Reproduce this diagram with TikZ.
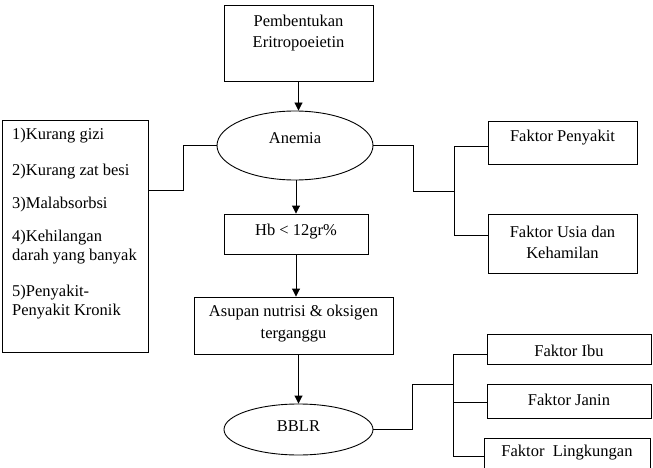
\documentclass[tikz,border=0pt]{standalone}
\usepackage{fontspec}
\setmainfont{Liberation Serif}
\usetikzlibrary{arrows.meta,shapes.geometric}
\begin{document}
\begin{tikzpicture}[x=1pt,y=-1pt,
  every node/.style={font=\fontsize{16.5}{19}\selectfont, inner sep=0pt},
  box/.style={draw, line width=0.9pt, rectangle, align=center},
  oval/.style={draw, line width=0.9pt, ellipse},
  ln/.style={line width=0.9pt},
  arr/.style={line width=0.9pt, -{Triangle[length=8pt,width=8pt]}},
  txt/.style={anchor=west}]
\clip (0,0) rectangle (653,468);
\useasboundingbox (0,0) rectangle (653,468);
% boxes
\node[box, minimum width=149pt, minimum height=76pt] (peb) at (298.5,43) {};
\node[align=center] (pebt) at (298.5,33) {Pembentukan\\[2pt]Eritropoeietin};
\node[oval, minimum width=156pt, minimum height=69pt] (anemia) at (295,145.5) {};
\node (anemiat) at (295,138) {Anemia};
\node[box, minimum width=144pt, minimum height=40pt] (hb) at (296,234) {};
\node (hbt) at (296,232) {Hb < 12gr\%};
\node[box, minimum width=199pt, minimum height=57pt] (asupan) at (293.5,325.5) {};
\node[align=center] (asupant) at (293.5,324) {Asupan nutrisi \& oksigen\\[3pt]terganggu};
\node[oval, minimum width=149pt, minimum height=51pt] (bblr) at (298.5,429.5) {};
\node (bblrt) at (298.5,426) {BBLR};
\node[box, minimum width=146pt, minimum height=232pt] (left) at (75,236) {};
\node[txt] (l1) at (12,136) {1)Kurang gizi};
\node[txt] (l2) at (12,172) {2)Kurang zat besi};
\node[txt] (l3) at (12,205) {3)Malabsorbsi};
\node[txt] (l4a) at (12,238) {4)Kehilangan};
\node[txt] (l4b) at (12,257) {darah yang banyak};
\node[txt] (l5a) at (12,293) {5)Penyakit-};
\node[txt] (l5b) at (12,312) {Penyakit Kronik};
\node[box, minimum width=149pt, minimum height=43pt] (peny) at (562.5,142.5) {};
\node (penyt) at (562.5,138) {Faktor Penyakit};
\node[box, minimum width=149pt, minimum height=59pt] (usia) at (562.5,243.5) {};
\node[align=center] (usiat) at (562.5,242.5) {Faktor Usia dan\\[2pt]Kehamilan};
\node[box, minimum width=164pt, minimum height=30pt] (ibu) at (569,349) {};
\node (ibut) at (569,351) {Faktor Ibu};
\node[box, minimum width=164pt, minimum height=34pt] (janin) at (569,401) {};
\node (janint) at (569,400) {Faktor Janin};
\node[box, minimum width=166pt, minimum height=44pt] (lingk) at (567,460) {};
\node (lingkt) at (567,453) {Faktor\ \ Lingkungan};
% arrows
\draw[arr] (peb.south) -- (peb.south |- anemia.north);
\draw[arr] (anemia.south -| hb) -- (hb.north);
\draw[arr] (hb.south) -- (hb.south |- asupan.north);
\draw[arr] (asupan.south -| bblr) -- (bblr.north);
% left connector
\coordinate (lj) at (183,190);
\draw[ln] (anemia.west) -| (lj) -- (lj -| left.east);
% right connector
\coordinate (rj) at (413,191);
\coordinate (rv) at (454,191);
\coordinate (rp) at (454,146);
\coordinate (ru) at (454,235);
\draw[ln] (anemia.east) -| (rj) -- (rv);
\draw[ln] (rp -| peny.west) -- (rp) -- (ru) -- (ru -| usia.west);
% bottom connector
\coordinate (bj) at (412,384);
\coordinate (bv) at (453,384);
\coordinate (bi) at (453,354);
\coordinate (bja) at (453,402);
\coordinate (bl) at (453,456);
\draw[ln] (bblr.east) -| (bj) -- (bv);
\draw[ln] (bi -| ibu.west) -- (bi) -- (bl) -- (bl -| lingk.west);
\draw[ln] (bja) -- (bja -| janin.west);
\end{tikzpicture}
\end{document}
